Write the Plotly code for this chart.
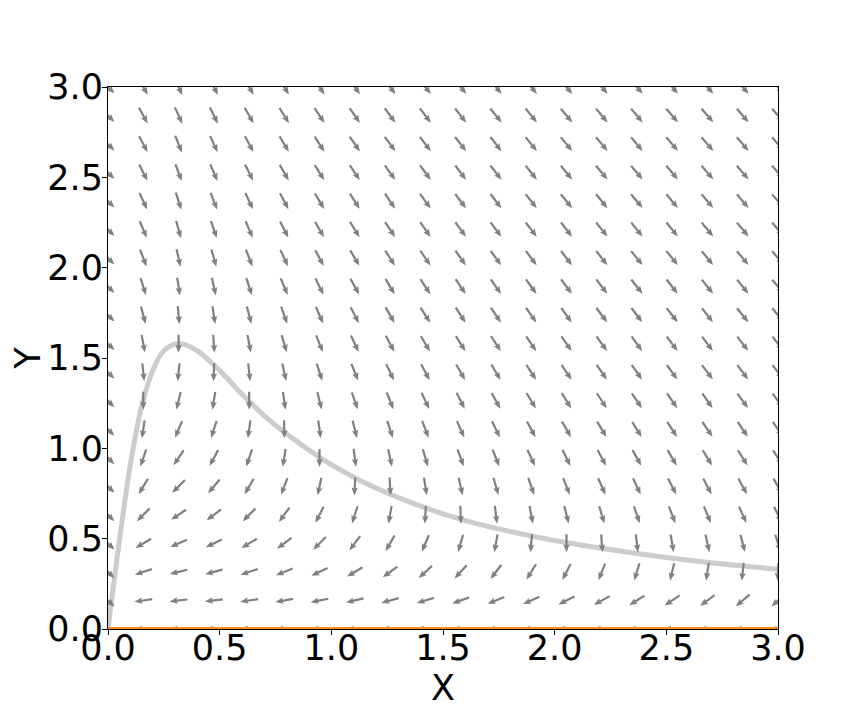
import math
import plotly.graph_objects as go

# grid of the direction field (x and y positions of arrows)
grid_x = [0.0, 0.158, 0.316, 0.474, 0.632, 0.789, 0.947, 1.105, 1.263, 1.421,
          1.579, 1.737, 1.895, 2.053, 2.211, 2.368, 2.526, 2.684, 2.842, 3.0]
grid_y = [0.0, 0.158, 0.316, 0.474, 0.632, 0.789, 0.947, 1.105, 1.263, 1.421,
          1.579, 1.737, 1.895, 2.053, 2.211, 2.368, 2.526, 2.684, 2.842, 3.0]

# arrow directions in degrees (rows bottom -> top, columns left -> right)
arrow_angle = [
    [None, -180, -180, -180, -180, -180, -180, -180, -180, -180, -180, -180, -180, -180, -180, -180, -180, -180, -180, -180],
    [-45, -172, -174, -173, -172, -170, -169, -167, -165, -163, -161, -158, -156, -154, -151, -148, -146, -143, -140, -137],
    [-45, -162, -166, -165, -162, -158, -154, -149, -144, -138, -133, -127, -122, -117, -112, -107, -103, -99, -96, -92],
    [-45, -149, -157, -154, -149, -143, -135, -127, -120, -113, -106, -100, -95, -90, -86, -83, -80, -77, -75, -73],
    [-45, -135, -146, -143, -135, -126, -117, -108, -100, -93, -88, -83, -79, -76, -73, -71, -69, -67, -66, -64],
    [-45, -121, -135, -130, -121, -111, -102, -93, -87, -81, -77, -74, -71, -68, -66, -65, -63, -62, -61, -60],
    [-45, -109, -124, -118, -109, -99, -90, -83, -78, -74, -70, -68, -65, -64, -62, -61, -60, -59, -58, -57],
    [-45, -98, -113, -108, -98, -89, -82, -76, -72, -69, -66, -64, -62, -60, -59, -58, -57, -56, -56, -55],
    [-45, -90, -104, -99, -90, -82, -76, -71, -68, -65, -63, -61, -59, -58, -57, -56, -55, -55, -54, -54],
    [-45, -84, -96, -92, -84, -77, -72, -68, -65, -62, -60, -59, -57, -56, -55, -55, -54, -53, -53, -52],
    [-45, -79, -90, -86, -79, -73, -68, -65, -62, -60, -58, -57, -56, -55, -54, -54, -53, -53, -52, -52],
    [-45, -75, -85, -81, -75, -70, -66, -63, -60, -58, -57, -56, -55, -54, -53, -53, -52, -52, -51, -51],
    [-45, -72, -81, -77, -72, -67, -63, -61, -59, -57, -56, -55, -54, -53, -53, -52, -52, -51, -51, -50],
    [-45, -69, -77, -74, -69, -65, -62, -59, -57, -56, -55, -54, -53, -52, -52, -51, -51, -51, -50, -50],
    [-45, -67, -74, -71, -67, -63, -60, -58, -56, -55, -54, -53, -52, -52, -51, -51, -51, -50, -50, -50],
    [-45, -65, -72, -69, -65, -62, -59, -57, -56, -54, -53, -53, -52, -51, -51, -50, -50, -50, -50, -49],
    [-45, -63, -69, -67, -63, -60, -58, -56, -55, -54, -53, -52, -51, -51, -50, -50, -50, -49, -49, -49],
    [-45, -62, -68, -65, -62, -59, -57, -55, -54, -53, -52, -52, -51, -51, -50, -50, -49, -49, -49, -49],
    [-45, -61, -66, -64, -61, -58, -56, -55, -54, -53, -52, -51, -51, -50, -50, -50, -49, -49, -49, -49],
    [-45, -60, -65, -63, -60, -58, -56, -54, -53, -52, -51, -51, -50, -50, -50, -49, -49, -49, -49, -48],
]

# nullcline curve
curve_x = [0.0, 0.02, 0.05, 0.1, 0.15, 0.2, 0.25, 0.32, 0.4, 0.5, 0.6, 0.7, 0.8,
           1.0, 1.2, 1.4, 1.6, 1.8, 2.0, 2.3, 2.6, 3.0]
curve_y = [0.0, 0.2, 0.48, 0.91, 1.23, 1.43, 1.54, 1.58, 1.54, 1.43, 1.30, 1.18,
           1.08, 0.91, 0.78, 0.68, 0.60, 0.54, 0.49, 0.43, 0.38, 0.33]

# second nullcline (y = 0)
line2_x = [0.0, 3.0]
line2_y = [0.0, 0.0]

tick_vals = [0, 0.5, 1.0, 1.5, 2.0, 2.5, 3.0]
tick_text = ["0.0", "0.5", "1.0", "1.5", "2.0", "2.5", "3.0"]

# page has an 8 px body margin, so the figure is 8 px smaller and offset
W, H = 856, 712
ML, MR, MT, MB = 100, 86, 79, 91
PX = (W - ML - MR) / 3.0
PY = (H - MT - MB) / 3.0
L, SW, HW, HL, HAL = 18.0, 2.2, 6.5, 8.0, 7.0

ax_, ay_ = [], []
for j, yv in enumerate(grid_y):
    for i, xv in enumerate(grid_x):
        ang = arrow_angle[j][i]
        if ang is None:
            continue
        t = math.radians(ang)
        c, s = math.cos(t), math.sin(t)
        pts = [(-L/2, SW/2), (L/2-HAL, SW/2), (L/2-HL, HW/2), (L/2, 0),
               (L/2-HL, -HW/2), (L/2-HAL, -SW/2), (-L/2, -SW/2), (-L/2, SW/2)]
        for p, q in pts:
            dx = p * c - q * s
            dy = p * s + q * c
            ax_.append(xv + dx / PX)
            ay_.append(yv + dy / PY)
        ax_.append(None)
        ay_.append(None)

fig = go.Figure()
fig.add_trace(go.Scatter(x=curve_x, y=curve_y, mode="lines",
                         line=dict(color="#cccccc", width=5, shape="spline"), hoverinfo="skip"))
fig.add_trace(go.Scatter(x=ax_, y=ay_, mode="lines", fill="toself", fillcolor="#808080",
                         line=dict(width=0, color="#808080"), hoverinfo="skip"))
fig.add_trace(go.Scatter(x=line2_x, y=line2_y, mode="lines",
                         line=dict(color="#ff8c1a", width=4), hoverinfo="skip"))

FS = 35
axis_common = dict(range=[0, 3], tickvals=tick_vals, ticktext=tick_text, showgrid=False, zeroline=False,
                   showline=True, linecolor="black", linewidth=1, mirror=True, ticks="outside",
                   ticklen=5, tickcolor="black", tickfont=dict(size=FS, color="black"),
                   automargin=False, layer="below traces")
fig.update_layout(width=W, height=H, margin=dict(l=ML, r=MR, t=MT, b=MB), showlegend=False,
                  plot_bgcolor="white", paper_bgcolor="white",
                  font=dict(family="DejaVu Sans", size=FS, color="black"),
                  xaxis=dict(**axis_common, ticklabelstandoff=-17,
                             title=dict(text="X", standoff=0, font=dict(size=FS))),
                  yaxis=dict(**axis_common, ticklabelstandoff=-8,
                             title=dict(text="Y", standoff=12, font=dict(size=FS))))
fig.write_html("out.html")
